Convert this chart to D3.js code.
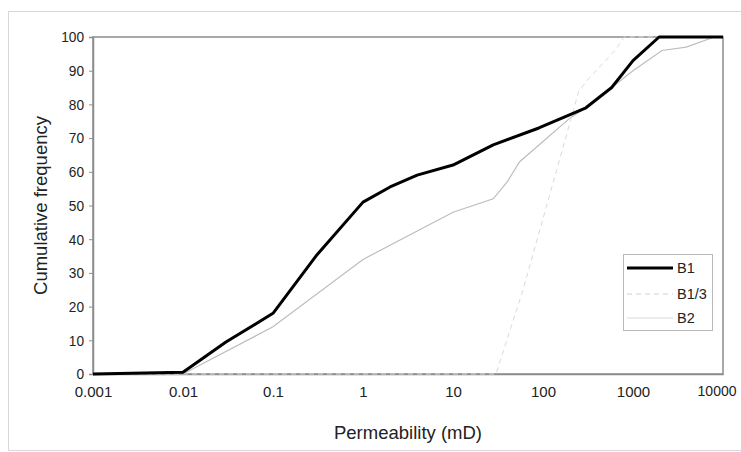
<!DOCTYPE html>
<html><head><meta charset="utf-8">
<script src="https://cdn.jsdelivr.net/npm/d3@7"></script>
<style>body{margin:0;background:#fff}svg{display:block;font-family:"Liberation Sans",Arial,sans-serif}</style>
</head><body><svg id="c" width="741" height="452"></svg>
<script>
const xTicks = [0.001, 0.01, 0.1, 1, 10, 100, 1000, 10000];
const xTickLabels = ["0.001", "0.01", "0.1", "1", "10", "100", "1000", "10000"];
const yTicks = [0, 10, 20, 30, 40, 50, 60, 70, 80, 90, 100];
const seriesNames = ["B1", "B1/3", "B2"];
const b1K = [0.001, 0.01, 0.03, 0.1, 0.3, 1, 2, 4, 10, 28, 90, 300, 580, 1000, 1950, 10000];
const b1V = [0, 0.5, 9.5, 18, 35, 51, 55.5, 59, 62, 68, 73, 79, 85, 93, 100, 100];
const b13K = [0.001, 30, 60, 170, 250, 330, 630, 800, 10000];
const b13V = [0, 0, 25, 68, 84, 88, 96, 100, 100];
const b2K = [0.001, 0.01, 0.1, 1, 10, 28, 40, 55, 100, 200, 300, 1000, 2100, 3900, 8000, 10000];
const b2V = [0, 0, 14, 34, 48, 52, 57, 63, 69, 76, 79, 90, 96, 97, 100, 100];

const svg = d3.select("#c");
const L = 93, R = 723, T = 37, B = 374;
const x = d3.scaleLog().domain([0.001, 10000]).range([L, R]);
const y = d3.scaleLinear().domain([0, 100]).range([B, T]);
const FF = "Liberation Sans, Arial, sans-serif";

// outer chart border
svg.append("rect").attr("x", 8.5).attr("y", 11.5).attr("width", 740).attr("height", 439)
  .attr("fill", "none").attr("stroke", "#d8d8d8").attr("stroke-width", 1);

// plot frame
svg.append("rect").attr("x", L).attr("y", T).attr("width", R - L).attr("height", B - T)
  .attr("fill", "none").attr("stroke", "#8c8c8c").attr("stroke-width", 1.5);

// axes
const yAxis = d3.axisLeft(y).tickValues(yTicks).tickSize(4).tickPadding(5).tickFormat(d3.format("d"));
const gy = svg.append("g").attr("transform", `translate(${L},0)`).call(yAxis);
gy.select(".domain").attr("stroke", "#8c8c8c").attr("stroke-width", 1.5);
gy.selectAll(".tick line").attr("stroke", "#8c8c8c");
gy.selectAll("text").attr("font-size", 15).attr("fill", "#222").attr("font-family", FF)
  .attr("textLength", d => String(d).length * 7.6).attr("lengthAdjust", "spacingAndGlyphs");

const xAxis = d3.axisBottom(x).tickValues(xTicks).tickSize(0).tickPadding(12)
  .tickFormat((d, i) => xTickLabels[i]);
const gx = svg.append("g").attr("transform", `translate(0,${B})`).call(xAxis);
gx.select(".domain").attr("stroke", "#8c8c8c").attr("stroke-width", 1.5);
gx.selectAll("text").attr("font-size", 15).attr("fill", "#222").attr("font-family", FF);
// last label kept inside the canvas edge
gx.selectAll(".tick text").filter(d => d === 10000)
  .attr("text-anchor", "end").attr("x", 736 - R).attr("font-size", 14);

// titles
svg.append("text").attr("x", 408).attr("y", 439).attr("text-anchor", "middle")
  .attr("font-size", 18.5).attr("fill", "#222").text("Permeability (mD)");
svg.append("text").attr("transform", `translate(47,${(T + B) / 2}) rotate(-90)`).attr("text-anchor", "middle")
  .attr("font-size", 18.5).attr("fill", "#222").text("Cumulative frequency");

const line = d3.line().x(d => x(d[0])).y(d => y(d[1]));
const zip = (a, b) => a.map((v, i) => [v, b[i]]);

svg.append("path").datum(zip(b2K, b2V)).attr("d", line)
  .attr("fill", "none").attr("stroke", "#bdbdbd").attr("stroke-width", 1.2);
svg.append("path").datum(zip(b13K, b13V)).attr("d", line)
  .attr("fill", "none").attr("stroke", "#dadada").attr("stroke-width", 1).attr("stroke-dasharray", "5,4");
svg.append("path").datum(zip(b1K, b1V)).attr("d", line)
  .attr("fill", "none").attr("stroke", "#000").attr("stroke-width", 3).attr("stroke-linejoin", "round");

// legend
const lg = svg.append("g");
lg.append("rect").attr("x", 623.5).attr("y", 254.5).attr("width", 89).attr("height", 76)
  .attr("fill", "#fff").attr("stroke", "#b8b8b8").attr("stroke-width", 1);
const styles = [
  {stroke: "#000", w: 3, dash: null},
  {stroke: "#cfcfcf", w: 1, dash: "5,4"},
  {stroke: "#d8d8d8", w: 1, dash: null}
];
const rowY = [268, 294, 318];
seriesNames.forEach((n, i) => {
  lg.append("line").attr("x1", 627).attr("x2", 673).attr("y1", rowY[i]).attr("y2", rowY[i])
    .attr("stroke", styles[i].stroke).attr("stroke-width", styles[i].w)
    .attr("stroke-dasharray", styles[i].dash);
  lg.append("text").attr("x", 677).attr("y", rowY[i] + 5).attr("font-size", 14.5).attr("fill", "#222").text(n);
});
</script></body></html>
